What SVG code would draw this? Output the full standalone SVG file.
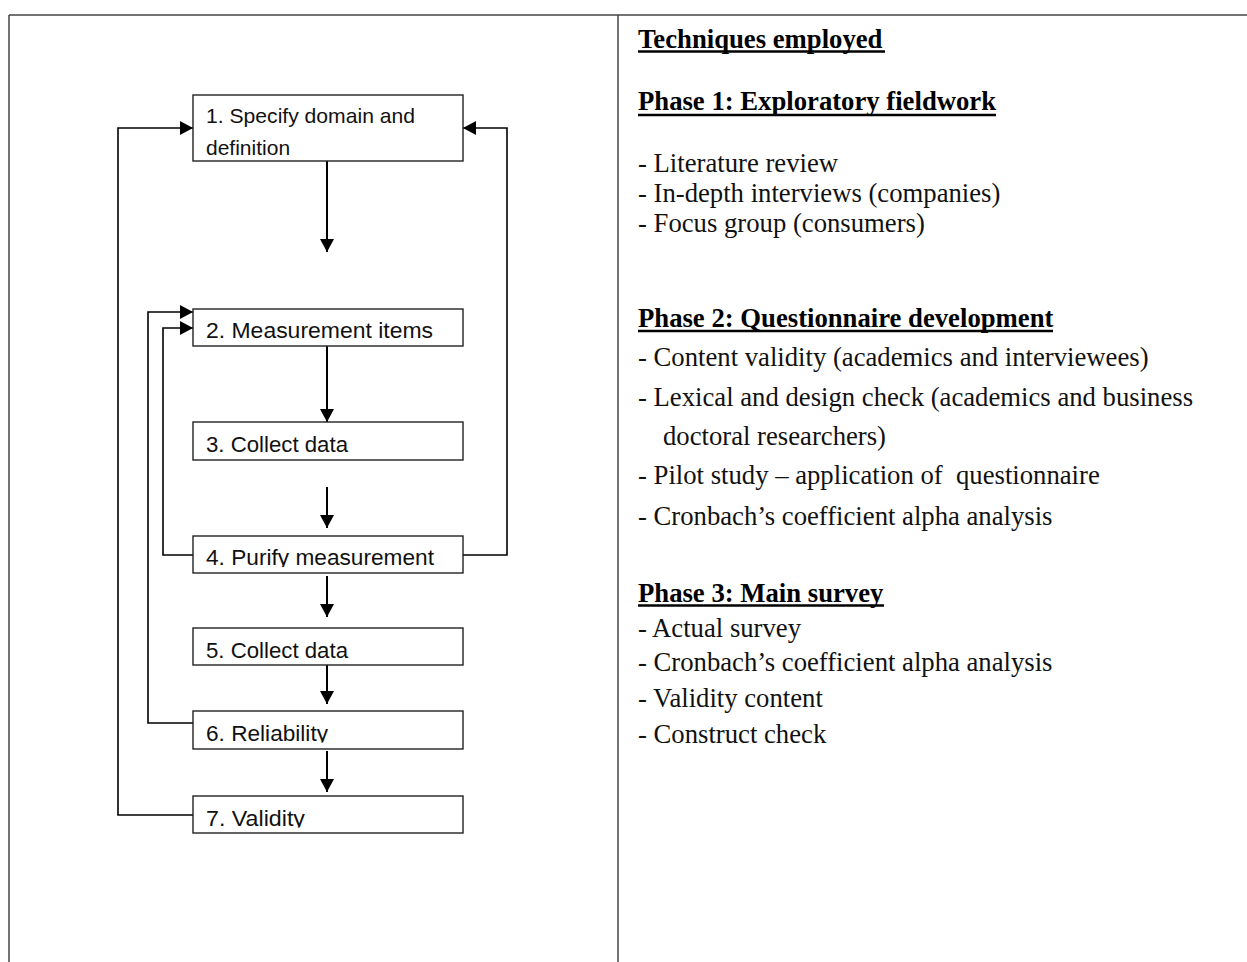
<svg xmlns="http://www.w3.org/2000/svg" width="1247" height="962" viewBox="0 0 1247 962">
<style>
.frame{stroke:#444;stroke-width:1.5;fill:none}
.box{fill:#fff;stroke:#222;stroke-width:1.4}
.lbl{font-family:"Liberation Sans",Arial,sans-serif;font-size:22.5px;fill:#111}
.arr{stroke:#000;stroke-width:2;fill:none}
.loop{stroke:#000;stroke-width:1.6;fill:none}
.h{font-family:"Liberation Serif","Times New Roman",serif;font-size:26.7px;font-weight:bold;fill:#000}
.t{font-family:"Liberation Serif","Times New Roman",serif;font-size:26.7px;fill:#111}
.ul{stroke:#000;stroke-width:2.4}
</style>
<defs>
<marker id="ah" markerUnits="userSpaceOnUse" markerWidth="14" markerHeight="14" viewBox="0 0 14 14" refX="13" refY="7" orient="auto">
<path d="M0,0 L13,7 L0,14 Z" fill="#000"/>
</marker>
<clipPath id="c4"><rect x="193" y="536" width="270" height="31"/></clipPath>
<clipPath id="c6"><rect x="193" y="711" width="270" height="31.5"/></clipPath>
<clipPath id="c7"><rect x="193" y="796" width="270" height="31.5"/></clipPath>
</defs>
<rect width="1247" height="962" fill="#fff"/>
<g id="frame">
<line class="frame" x1="9" y1="15" x2="1247" y2="15"/>
<line class="frame" x1="9" y1="15" x2="9" y2="962"/>
<line class="frame" x1="618" y1="15" x2="618" y2="962"/>
</g>
<g id="connectors">
<line class="arr" x1="327" y1="161" x2="327" y2="252" marker-end="url(#ah)"/>
<line class="arr" x1="327" y1="346" x2="327" y2="422" marker-end="url(#ah)"/>
<line class="arr" x1="327" y1="487" x2="327" y2="528" marker-end="url(#ah)"/>
<line class="arr" x1="327" y1="576" x2="327" y2="617" marker-end="url(#ah)"/>
<line class="arr" x1="327" y1="665" x2="327" y2="704" marker-end="url(#ah)"/>
<line class="arr" x1="327" y1="751" x2="327" y2="792" marker-end="url(#ah)"/>
<path class="loop" d="M193,815 H118 V128 H193" marker-end="url(#ah)"/>
<path class="loop" d="M193,723 H148 V312 H193" marker-end="url(#ah)"/>
<path class="loop" d="M193,555 H163 V328 H193" marker-end="url(#ah)"/>
<path class="loop" d="M463,555 H507 V128 H463" marker-end="url(#ah)"/>
</g>
<g id="n1">
<rect class="box" x="193" y="95" width="270" height="66"/>
<text class="lbl" x="206" y="123" style="font-size:21px" textLength="209" lengthAdjust="spacingAndGlyphs">1. Specify domain and</text>
<text class="lbl" x="206" y="155" style="font-size:21px">definition</text>
</g>
<g id="n2">
<rect class="box" x="193" y="309" width="270" height="37"/>
<text class="lbl" x="206" y="338" textLength="227" lengthAdjust="spacingAndGlyphs">2. Measurement items</text>
</g>
<g id="n3">
<rect class="box" x="193" y="422" width="270" height="38"/>
<text class="lbl" x="206" y="452" textLength="142" lengthAdjust="spacingAndGlyphs">3. Collect data</text>
</g>
<g id="n4">
<rect class="box" x="193" y="536" width="270" height="37"/>
<text class="lbl" x="206" y="565" clip-path="url(#c4)" textLength="228" lengthAdjust="spacingAndGlyphs">4. Purify measurement</text>
</g>
<g id="n5">
<rect class="box" x="193" y="628" width="270" height="37"/>
<text class="lbl" x="206" y="658" textLength="142" lengthAdjust="spacingAndGlyphs">5. Collect data</text>
</g>
<g id="n6">
<rect class="box" x="193" y="711" width="270" height="38"/>
<text class="lbl" x="206" y="741" clip-path="url(#c6)" textLength="122" lengthAdjust="spacingAndGlyphs">6. Reliability</text>
</g>
<g id="n7">
<rect class="box" x="193" y="796" width="270" height="37"/>
<text class="lbl" x="206" y="826" clip-path="url(#c7)" textLength="99" lengthAdjust="spacingAndGlyphs">7. Validity</text>
</g>
<g id="techniques">
<text class="h" x="638" y="48">Techniques employed</text>
<line class="ul" x1="638" y1="51.5" x2="885" y2="51.5"/>
<text class="h" x="638" y="110">Phase 1: Exploratory fieldwork</text>
<line class="ul" x1="638" y1="115" x2="996" y2="115"/>
<text class="t" x="638" y="172">- Literature review</text>
<text class="t" x="638" y="202">- In-depth interviews (companies)</text>
<text class="t" x="638" y="232">- Focus group (consumers)</text>
<text class="h" x="638" y="327">Phase 2: Questionnaire development</text>
<line class="ul" x1="638" y1="331" x2="1053" y2="331"/>
<text class="t" x="638" y="366">- Content validity (academics and interviewees)</text>
<text class="t" x="638" y="406">- Lexical and design check (academics and business</text>
<text class="t" x="663" y="445">doctoral researchers)</text>
<text class="t" x="638" y="484" xml:space="preserve">- Pilot study – application of  questionnaire</text>
<text class="t" x="638" y="525">- Cronbach’s coefficient alpha analysis</text>
<text class="h" x="638" y="602">Phase 3: Main survey</text>
<line class="ul" x1="638" y1="605.5" x2="884" y2="605.5"/>
<text class="t" x="638" y="637">- Actual survey</text>
<text class="t" x="638" y="671">- Cronbach’s coefficient alpha analysis</text>
<text class="t" x="638" y="707">- Validity content</text>
<text class="t" x="638" y="743">- Construct check</text>
</g>
</svg>
